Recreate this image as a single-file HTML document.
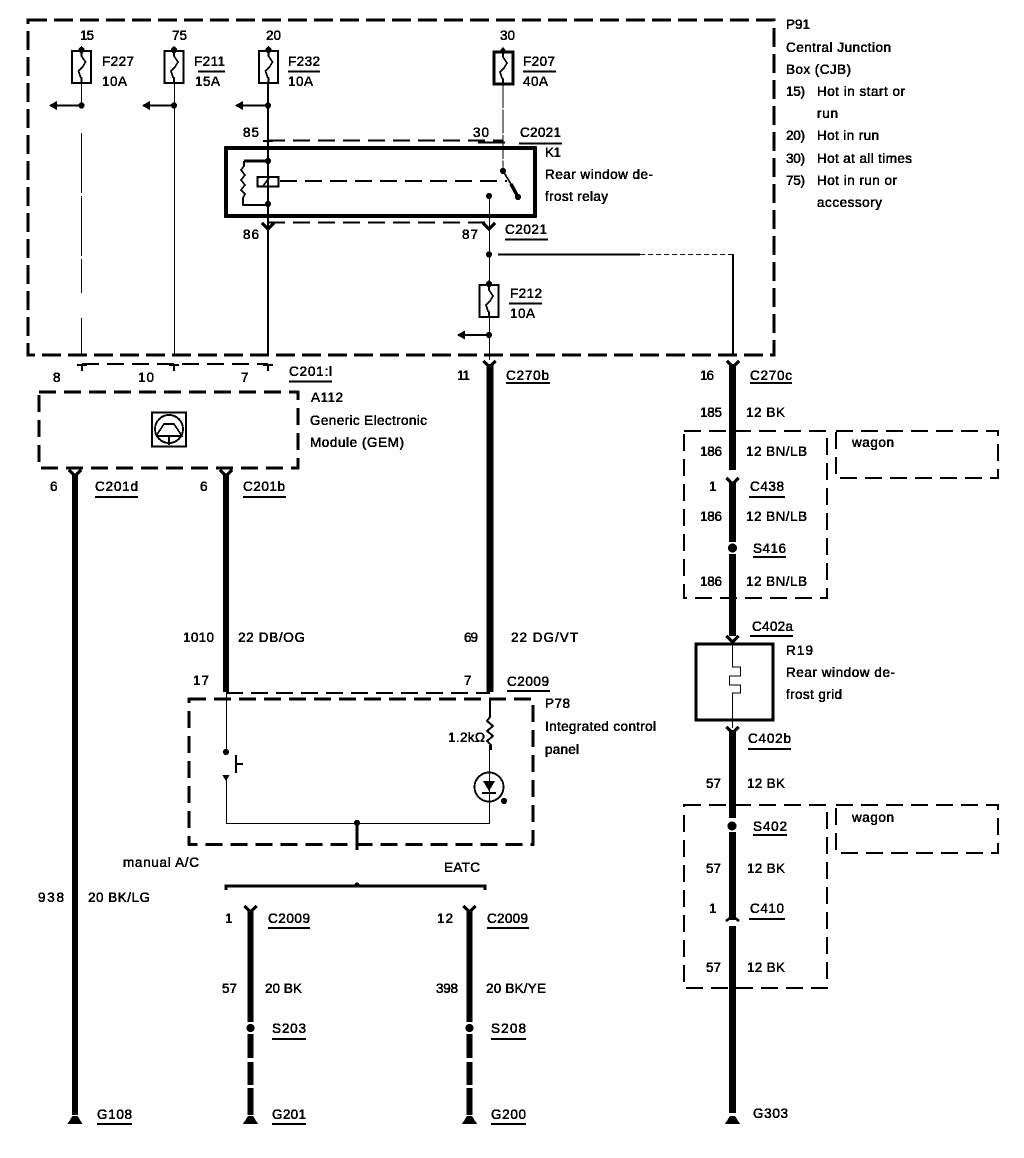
<!DOCTYPE html>
<html><head><meta charset="utf-8"><style>
html,body{margin:0;padding:0;background:#fff}
svg{display:block}
text{font-family:"Liberation Sans",sans-serif;font-size:13.5px;fill:#000;stroke:#000;stroke-width:.35px}
</style></head><body>
<svg width="1024" height="1158" viewBox="0 0 1024 1158" xmlns="http://www.w3.org/2000/svg">
<defs>
<filter id="bin" x="0" y="0" width="100%" height="100%" color-interpolation-filters="sRGB">
<feComponentTransfer><feFuncR type="discrete" tableValues="0 0 1"/><feFuncG type="discrete" tableValues="0 0 1"/><feFuncB type="discrete" tableValues="0 0 1"/></feComponentTransfer>
</filter>
<g id="fuse"><rect x="-9.5" y="0" width="19" height="32" fill="#fff" stroke="#000" stroke-width="1.8"/><path d="M0,0V5L4,11 1,16 -3,20 -1,26 0,27V32" fill="none" stroke="#000" stroke-width="1.5"/><path d="M-4,0L0,-5 4,0Z" fill="#000"/><circle cx="0" cy="-1" r="3"/></g>
<g id="arr"><path d="M0,0L8,-4.500V4.500Z" fill="#000"/></g>
<g id="yc"><path d="M-6,-6L0,0 6,-6" fill="none" stroke="#000" stroke-width="3"/></g>
<g id="t"><path d="M-5,1H5M0,1V7" fill="none" stroke="#000" stroke-width="1.8"/></g>
<g id="gnd"><path d="M-7.500,0H7.500L2.500,-8H-2.500Z" fill="#000"/></g>
</defs>
<g filter="url(#bin)">
<rect width="1024" height="1158" fill="#fff"/>
<g fill="none" stroke="#000">
<!-- boxes -->
<rect x="28" y="20" width="746" height="335" stroke-width="3" stroke-dasharray="19 7"/>
<rect x="39" y="392" width="259" height="76" stroke-width="2.600" stroke-dasharray="17 8"/>
<rect x="189" y="699" width="344" height="145.500" stroke-width="2.400" stroke-dasharray="17 8"/>
<rect x="684" y="431" width="143" height="167" stroke-width="2" stroke-dasharray="17 8"/>
<rect x="836" y="431" width="162" height="47" stroke-width="2" stroke-dasharray="17 8"/>
<rect x="684" y="805" width="143" height="183" stroke-width="2" stroke-dasharray="17 8"/>
<rect x="836" y="805" width="162" height="48" stroke-width="2" stroke-dasharray="17 8"/>
<rect x="226" y="148" width="309" height="68" stroke-width="3.500"/>
<rect x="696" y="644" width="77" height="76" stroke-width="3.200"/>
<!-- dashed connector lines -->
<path d="M268,140.500H503" stroke-width="2" stroke-dasharray="17 8"/>
<path d="M268,222.500H489" stroke-width="2" stroke-dasharray="17 8"/>
<path d="M82,364H268" stroke-width="2" stroke-dasharray="17 8"/>
<path d="M226,693H490" stroke-width="2.200" stroke-dasharray="17 8"/>
<path d="M280,181H507" stroke-width="2" stroke-dasharray="17 8"/>
<!-- thin wires -->
<path d="M81.500,83V105" stroke-width="1"/>
<path d="M81.500,133V293" stroke-width="1" stroke-dasharray="60 3"/>
<path d="M81.500,318V355" stroke-width="1"/>
<path d="M174.500,83V355" stroke-width="1"/>
<path d="M268,83V355" stroke-width="2"/>
<path d="M503,84V171" stroke-width="1" stroke-dasharray="24 1.500"/>
<path d="M489.500,196V285M489.500,317V360" stroke-width="1"/>
<path d="M498,254.500H640" stroke-width="1.800"/>
<path d="M640,254.500H733" stroke-width="1" stroke-dasharray="5 3"/>
<path d="M733,254V356" stroke-width="2"/>
<!-- arrows -->
<path d="M55,105.500H81.500M148,105.500H174M241,105.500H268M463,335H489" stroke-width="2"/>
<!-- relay internals -->
<path d="M268,161H244" stroke-width="2.800"/>
<path d="M244,161V166L241,170 245,175 241,180 245,185 241,190 245,194 243,198V205H268" stroke-width="1.500"/>
<rect x="257.500" y="177" width="21" height="9.500" stroke-width="2.200"/>
<path d="M263,186L269,178" stroke-width="1.500"/>
<path d="M503,171L511,184" stroke-width="1.600"/>
<path d="M511,184L518,197" stroke-width="3.400"/>
<!-- heavy wires -->
<path d="M75,474V1115" stroke-width="6"/>
<path d="M226,474V692" stroke-width="6"/>
<path d="M490,364V692" stroke-width="6.500"/>
<path d="M732.500,364V470" stroke-width="6.500"/>
<path d="M732.500,482V542M732.500,554V636" stroke-width="6.500"/>
<path d="M732.500,730V818" stroke-width="6.500"/>
<path d="M732.500,832V920M732.500,926V1113" stroke-width="6.500"/>
<path d="M250.500,910V1022M250.500,1034V1058M250.500,1062V1085M250.500,1088V1115" stroke-width="6"/>
<path d="M469.500,910V1022M469.500,1034V1058M469.500,1062V1085M469.500,1088V1115" stroke-width="6"/>
<!-- defrost grid -->
<path d="M732.500,640V667H740.500V676H729.500V685H740.500V693H732.500V728" stroke-width="1"/>
<!-- P78 -->
<path d="M226.500,693V752M226.500,776V823.500H489.500V745" stroke-width="1"/>
<path d="M490,699V717L487,721 493,726 487,731 493,736 487,741 491,745V750" stroke-width="1.800"/>
<path d="M236,755V773M236,764H243" stroke-width="1.800"/>
<circle cx="489" cy="787" r="14.500" stroke-width="1.700"/>
<path d="M357,823V850" stroke-width="3.200"/>
<path d="M226,890V886H485V890" stroke-width="3"/>
<!-- icon -->
<rect x="152" y="412.500" width="34" height="34" stroke-width="1.700"/>
<circle cx="169" cy="429" r="14" stroke-width="1.700"/>
<path d="M156,436L164,424H174L182,436H156M169,436V445" stroke-width="1.500"/>
<!-- underlines -->
<path d="M198,71.500H225M288,71.500H320M523,71.500H556M478,142.500H505M519,143.500H562M505,239.500H548M509,303.500H542M289,381.500H332M506,383H550M750,383H792M95,497H138M243,497H286M507,691H550M749,497H785M753,557H786M750,636H793M748,749H791M753,835H787M749,919H785M268,928H310M487,928H529M272,1039H306M491,1039H526M97,1124H132M272,1124H306M491,1124H526" stroke-width="1.800"/>
</g>
<!-- fuses -->
<use href="#fuse" x="81.500" y="51"/><use href="#fuse" x="174" y="51"/><use href="#fuse" x="268.500" y="51"/>
<use href="#fuse" x="489" y="285"/>
<rect x="494" y="52" width="19" height="32" fill="none" stroke="#000" stroke-width="2.600"/>
<path d="M503,52V57L507,63 504,68 500,72 502,78 503,79V84" fill="none" stroke="#000" stroke-width="1.500"/>
<path d="M499,52L503,47 507,52Z" fill="#000"/>
<!-- arrowheads -->
<use href="#arr" x="49" y="105.500"/><use href="#arr" x="142" y="105.500"/><use href="#arr" x="235" y="105.500"/><use href="#arr" x="457" y="335"/>
<!-- dots -->
<g fill="#000">
<circle cx="81.500" cy="105.500" r="3"/><circle cx="174" cy="105.500" r="3"/><circle cx="268" cy="105.500" r="3"/>
<circle cx="268" cy="161" r="3"/><circle cx="268" cy="204" r="3"/><circle cx="503" cy="171" r="3"/><circle cx="489" cy="196" r="3"/><circle cx="518" cy="197" r="3"/>
<circle cx="489" cy="254.500" r="3"/><circle cx="489" cy="335" r="3"/>
<circle cx="226" cy="752" r="3"/><path d="M222.500,775H229.500L226,781Z"/><circle cx="357" cy="823" r="3"/><circle cx="357" cy="885" r="2.500"/>
<circle cx="732.500" cy="548" r="4.500"/><circle cx="732" cy="826" r="4.500"/><circle cx="250.500" cy="1028" r="4"/><circle cx="469.500" cy="1028" r="4"/>
<path d="M483,781H495L489,791ZM482,792H496V794H482Z"/><circle cx="504" cy="801" r="3"/>
</g>
<!-- connector marks -->
<use href="#t" x="82" y="364"/><use href="#t" x="174" y="364"/><use href="#t" x="268" y="364"/>
<use href="#t" x="268" y="140"/>
<use href="#yc" x="268" y="229"/><use href="#yc" x="489" y="229"/>
<use href="#yc" x="489.500" y="367"/><use href="#yc" x="733" y="367"/>
<use href="#yc" x="75" y="476"/><use href="#yc" x="226" y="476"/>
<use href="#yc" x="250.500" y="912"/><use href="#yc" x="469.500" y="912"/>
<use href="#yc" x="732.500" y="484"/><use href="#yc" x="732.500" y="642"/><use href="#yc" x="732.500" y="733"/>
<path d="M726,921L732.500,916 739,921" fill="none" stroke="#000" stroke-width="2.400"/>
<use href="#gnd" x="75" y="1124"/><use href="#gnd" x="250.500" y="1124"/><use href="#gnd" x="469.500" y="1124"/><use href="#gnd" x="732.500" y="1124"/>
<!-- text -->
<text x="80" y="40" textLength="14">15</text>
<text x="172" y="40" textLength="15">75</text>
<text x="266" y="40" textLength="15">20</text>
<text x="500" y="40" textLength="15">30</text>
<text x="102" y="66" textLength="32">F227</text>
<text x="102" y="86" textLength="25">10A</text>
<text x="194" y="66" textLength="31">F211</text>
<text x="195" y="86" textLength="25">15A</text>
<text x="288" y="66" textLength="32">F232</text>
<text x="288" y="86" textLength="25">10A</text>
<text x="523" y="66" textLength="32">F207</text>
<text x="523" y="86" textLength="25">40A</text>
<text x="243" y="137" textLength="16">85</text>
<text x="243" y="239" textLength="16">86</text>
<text x="462" y="239" textLength="16">87</text>
<text x="473" y="137" textLength="16">30</text>
<text x="520" y="137" textLength="41">C2021</text>
<text x="545" y="157" textLength="16">K1</text>
<text x="545" y="179" textLength="108">Rear window de-</text>
<text x="545" y="201" textLength="63">frost relay</text>
<text x="505" y="234" textLength="42">C2021</text>
<text x="510" y="298" textLength="32">F212</text>
<text x="510" y="318" textLength="25">10A</text>
<text x="786" y="29" textLength="24">P91</text>
<text x="786" y="52" textLength="105">Central Junction</text>
<text x="786" y="74" textLength="65">Box (CJB)</text>
<text x="786" y="96" textLength="19">15)</text>
<text x="817" y="96" textLength="88">Hot in start or</text>
<text x="817" y="118" textLength="21">run</text>
<text x="786" y="140" textLength="19">20)</text>
<text x="817" y="140" textLength="62">Hot in run</text>
<text x="786" y="163" textLength="19">30)</text>
<text x="817" y="163" textLength="95">Hot at all times</text>
<text x="786" y="185" textLength="19">75)</text>
<text x="817" y="185" textLength="80">Hot in run or</text>
<text x="817" y="207" textLength="65">accessory</text>
<text x="53" y="382">8</text>
<text x="138" y="382" textLength="16">10</text>
<text x="241" y="382">7</text>
<text x="289" y="376" textLength="43">C201:l</text>
<text x="457" y="380" textLength="13">11</text>
<text x="506" y="380" textLength="43">C270b</text>
<text x="700" y="380" textLength="14">16</text>
<text x="750" y="380" textLength="42">C270c</text>
<text x="700" y="417" textLength="22">185</text>
<text x="746" y="417" textLength="39">12 BK</text>
<text x="700" y="456" textLength="22">186</text>
<text x="746" y="456" textLength="61">12 BN/LB</text>
<text x="709" y="491">1</text>
<text x="750" y="491" textLength="34">C438</text>
<text x="700" y="521" textLength="22">186</text>
<text x="746" y="521" textLength="61">12 BN/LB</text>
<text x="753" y="553" textLength="33">S416</text>
<text x="700" y="586" textLength="22">186</text>
<text x="746" y="586" textLength="61">12 BN/LB</text>
<text x="752" y="631" textLength="41">C402a</text>
<text x="786" y="655" textLength="27">R19</text>
<text x="786" y="677" textLength="109">Rear window de-</text>
<text x="786" y="699" textLength="56">frost grid</text>
<text x="748" y="743" textLength="43">C402b</text>
<text x="706" y="788" textLength="15">57</text>
<text x="747" y="788" textLength="38">12 BK</text>
<text x="753" y="831" textLength="34">S402</text>
<text x="706" y="873" textLength="15">57</text>
<text x="747" y="873" textLength="38">12 BK</text>
<text x="709" y="913">1</text>
<text x="750" y="913" textLength="34">C410</text>
<text x="706" y="972" textLength="15">57</text>
<text x="747" y="972" textLength="38">12 BK</text>
<text x="753" y="1118" textLength="35">G303</text>
<text x="852" y="447" textLength="42">wagon</text>
<text x="852" y="822" textLength="42">wagon</text>
<text x="50" y="491">6</text>
<text x="95" y="491" textLength="43">C201d</text>
<text x="200" y="491">6</text>
<text x="243" y="491" textLength="42">C201b</text>
<text x="311" y="402" textLength="32">A112</text>
<text x="310" y="425" textLength="117">Generic Electronic</text>
<text x="310" y="447" textLength="94">Module (GEM)</text>
<text x="183" y="642" textLength="31">1010</text>
<text x="238" y="642" textLength="67">22 DB/OG</text>
<text x="464" y="642" textLength="14">69</text>
<text x="511" y="642" textLength="67">22 DG/VT</text>
<text x="193" y="685" textLength="16">17</text>
<text x="464" y="685">7</text>
<text x="507" y="686" textLength="42">C2009</text>
<text x="545" y="708" textLength="25">P78</text>
<text x="545" y="731" textLength="111">Integrated control</text>
<text x="545" y="754" textLength="34">panel</text>
<text x="448" y="742" textLength="37">1.2kΩ</text>
<text x="123" y="867" textLength="76">manual A/C</text>
<text x="444" y="872" textLength="36">EATC</text>
<text x="38" y="902" textLength="26">938</text>
<text x="88" y="902" textLength="62">20 BK/LG</text>
<text x="225" y="923">1</text>
<text x="268" y="923" textLength="42">C2009</text>
<text x="437" y="923" textLength="16">12</text>
<text x="487" y="923" textLength="41">C2009</text>
<text x="222" y="993" textLength="15">57</text>
<text x="265" y="993" textLength="37">20 BK</text>
<text x="436" y="993" textLength="22">398</text>
<text x="486" y="993" textLength="60">20 BK/YE</text>
<text x="272" y="1033" textLength="34">S203</text>
<text x="491" y="1033" textLength="35">S208</text>
<text x="97" y="1119" textLength="35">G108</text>
<text x="272" y="1119" textLength="34">G201</text>
<text x="491" y="1119" textLength="35">G200</text>
</g>
</svg>
</body></html>
